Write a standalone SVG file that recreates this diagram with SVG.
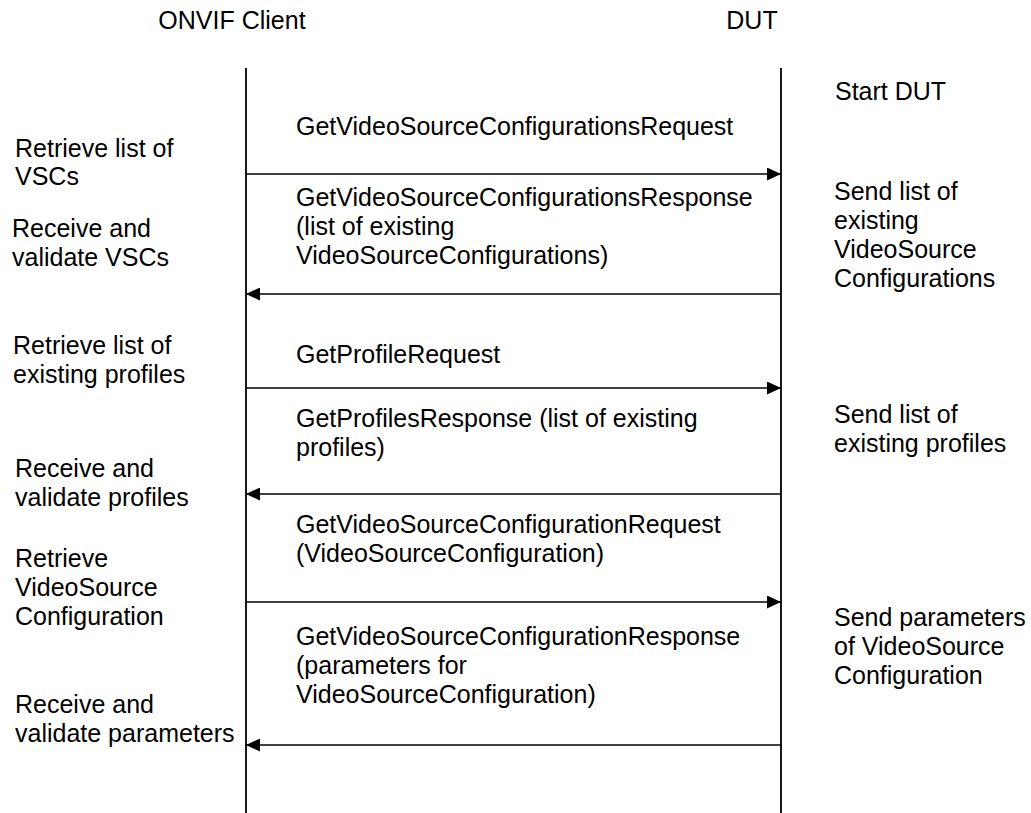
<svg xmlns="http://www.w3.org/2000/svg" width="1031" height="813" viewBox="0 0 1031 813">
<defs>
<marker id="ah" viewBox="0 0 14 13" refX="14" refY="6.5" markerWidth="14" markerHeight="13" markerUnits="userSpaceOnUse" orient="auto">
<path d="M0,0 L14,6.5 L0,13 Z" fill="#000"/>
</marker>
</defs>
<style>
text{font-family:"Liberation Sans",Arial,sans-serif;font-size:25px;fill:#000}
.life{stroke:#000;stroke-width:1.8;fill:none}
.msg{stroke:#000;stroke-width:1.5;fill:none;marker-end:url(#ah)}
</style>
<rect width="1031" height="813" fill="#fff"/>
<g id="client">
<text x="232" y="29" text-anchor="middle">ONVIF Client</text>
<line class="life" x1="246" y1="68" x2="246" y2="813"/>
</g>
<g id="dut">
<text x="752" y="29" text-anchor="middle">DUT</text>
<line class="life" x1="781" y1="68" x2="781" y2="813"/>
</g>
<g id="client-notes">
<text x="15" y="157">Retrieve list of</text>
<text x="15" y="185">VSCs</text>
<text x="12" y="237">Receive and</text>
<text x="12" y="266">validate VSCs</text>
<text x="13" y="354">Retrieve list of</text>
<text x="13" y="383">existing profiles</text>
<text x="15" y="477">Receive and</text>
<text x="15" y="506">validate profiles</text>
<text x="15" y="567">Retrieve</text>
<text x="15" y="596">VideoSource</text>
<text x="15" y="625">Configuration</text>
<text x="15" y="713">Receive and</text>
<text x="15" y="742">validate parameters</text>
</g>
<g id="dut-notes">
<text x="835" y="100">Start DUT</text>
<text x="834" y="200">Send list of</text>
<text x="834" y="229">existing</text>
<text x="834" y="258">VideoSource</text>
<text x="834" y="287">Configurations</text>
<text x="834" y="423">Send list of</text>
<text x="834" y="452">existing profiles</text>
<text x="834" y="626">Send parameters</text>
<text x="834" y="655">of VideoSource</text>
<text x="834" y="684">Configuration</text>
</g>
<g id="connectors">
<g id="m1">
<text x="296" y="135">GetVideoSourceConfigurationsRequest</text>
<line class="msg" x1="246" y1="174" x2="781" y2="174"/>
</g>
<g id="m2">
<text x="296" y="206">GetVideoSourceConfigurationsResponse</text>
<text x="296" y="235">(list of existing</text>
<text x="296" y="264">VideoSourceConfigurations)</text>
<line class="msg" x1="781" y1="294" x2="246" y2="294"/>
</g>
<g id="m3">
<text x="296" y="363">GetProfileRequest</text>
<line class="msg" x1="246" y1="388" x2="781" y2="388"/>
</g>
<g id="m4">
<text x="296" y="427">GetProfilesResponse (list of existing</text>
<text x="296" y="456">profiles)</text>
<line class="msg" x1="781" y1="494" x2="246" y2="494"/>
</g>
<g id="m5">
<text x="296" y="533">GetVideoSourceConfigurationRequest</text>
<text x="296" y="562">(VideoSourceConfiguration)</text>
<line class="msg" x1="246" y1="602" x2="781" y2="602"/>
</g>
<g id="m6">
<text x="296" y="645">GetVideoSourceConfigurationResponse</text>
<text x="296" y="674">(parameters for</text>
<text x="296" y="703">VideoSourceConfiguration)</text>
<line class="msg" x1="781" y1="745" x2="246" y2="745"/>
</g>
</g>
</svg>
